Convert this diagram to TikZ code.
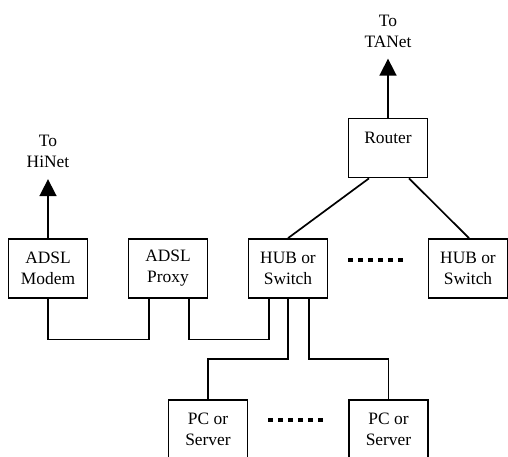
\documentclass[tikz,border=0pt]{standalone}
\usepackage{fontspec}
\setmainfont{Liberation Serif}
\usetikzlibrary{positioning, calc, arrows.meta}

\tikzset{
  netbox/.style={draw, line width=1.7pt, minimum width=79pt, minimum height=59pt, align=center, inner sep=0pt},
  wire/.style={line width=1.7pt},
  uplink/.style={line width=1.7pt, -{Triangle[length=17pt,width=17pt]}},
  tag/.style={align=center, inner sep=0pt},
  more/.style={line width=3.5pt, dash pattern=on 5pt off 5pt},
}

\begin{document}
\begin{tikzpicture}[x=1pt, y=-1pt, font=\fontsize{17.4}{21}\selectfont]
  \useasboundingbox (0,0) rectangle (508,456);

  % Boxes
  \node[netbox] (modem) at (48,268.5) {ADSL\\Modem};
  \node[netbox] (proxy) at (168,268.5) {ADSL\\Proxy};
  \node[netbox] (hubA) at (288,268.5) {HUB or\\Switch};
  \node[netbox] (hubB) at (468,268.5) {HUB or\\Switch};
  \node[netbox] (router) at (388,148) {Router\\\mbox{}};
  \node[netbox] (pcA) at (208,429.5) {PC or\\Server};
  \node[netbox] (pcB) at (388.5,429.5) {PC or\\Server};

  % Uplinks
  \coordinate (tanetEnd) at ($(router.north)+(0,-59)$);
  \coordinate (hinetEnd) at ($(modem.north)+(0,-59)$);
  \draw[uplink] (router.north) -- (tanetEnd);
  \draw[uplink] (modem.north) -- (hinetEnd);
  \node[tag, above=11pt of tanetEnd] (tanet) {To\\TANet};
  \node[tag, above=11pt of hinetEnd] (hinet) {To\\HiNet};

  % Router to hubs
  \draw[wire] ($(router.south)+(-19,0)$) -- (hubA.north);
  \draw[wire] ($(router.south)+(21,0)$) -- ($(hubB.north)+(1,0)$);

  % Modem -- proxy -- hub
  \draw[wire] (modem.south) -- ++(0,40.5) -| ($(proxy.south)+(-19,0)$);
  \draw[wire] ($(proxy.south)+(21,0)$) -- ++(0,40.5) -| ($(hubA.south)+(-19,0)$);

  % Hub to PCs
  \draw[wire] (hubA.south) -- ++(0,60) -| (pcA.north);
  \draw[wire] ($(hubA.south)+(21,0)$) -- ++(0,60) -| (pcB.north);

  % Dots
  \draw[more] ($(hubA.east)+(20,-8.5)$) -- ++(55,0);
  \draw[more] ($(pcA.east)+(20,-9.5)$) -- ++(55,0);
\end{tikzpicture}
\end{document}
